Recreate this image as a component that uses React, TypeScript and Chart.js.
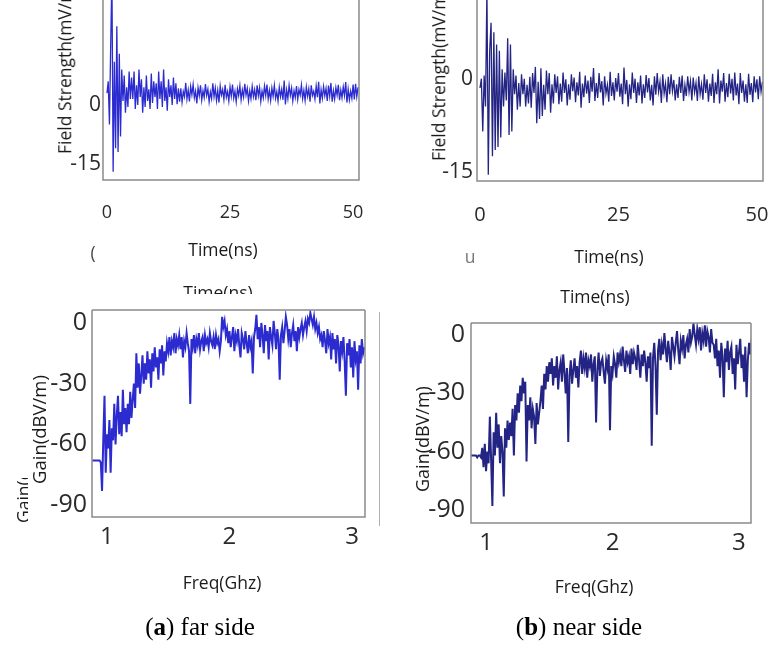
import React, { useEffect, useRef } from "react";
import { Chart, registerables } from "chart.js";

Chart.register(...registerables);

// ---------------- data ----------------
const TIME_STEP_NS = 0.25;
const FREQ_START_GHZ = 0.88;
const FREQ_STEP_GHZ = 0.01;

const TIME_TICKS = [0, 25, 50];
const FIELD_TICKS = [-15, 0];
const FREQ_TICKS = [1, 2, 3];
const GAIN_TICKS = [-90, -60, -30, 0];

// (a) far side, field strength vs time
const FAR_FIELD_MV = [
  0, 3, -8, 12, 30, -20, 8, -14, 17, -15, 10, -11, 6, -2, 4.5, -5, 1.5, -3.5, 5.5, -1.5,
  4, -1.5, 5.5, -4, 2, -3, 6, -1, 3.5, -5, 1.5, -3.5, 4.5, -2, 1, -4, 5, -2.5, 3, -1,
  2.5, -4, 5.5, -1.5, 3, -3.5, 6, -2, 1.5, -4.5, 3.5, -1, 2, -3, 4, -1.5, 2.5, -2.8, 1.2, -2.2,
  1.2, -2.3, 0.4, -0.9, 2.6, -1.5, 0.8, -2.1, 1.7, -0.4, 2.2, -1.2, 0.5, -2.6, 1.4, -0.7, 2.0, -1.8, 0.6, -1.1,
  2.3, -0.6, 1.0, -2.2, 0.3, -1.4, 2.5, -0.9, 1.3, -1.9, 0.7, -2.4, 1.8, -0.5, 0.9, -1.6, 2.1, -1.0, 0.4, -2.0,
  1.6, -0.8, 2.2, -1.3, 0.5, -2.2, 1.1, -0.6, 1.9, -1.7, 0.8, -1.0, 2.4, -0.5, 1.2, -2.0, 0.6, -1.4, 1.7, -0.9,
  0.9, -1.8, 2.0, -0.7, 1.4, -2.1, 0.5, -1.2, 1.8, -0.6, 2.2, -1.5, 0.7, -1.9, 1.3, -0.8, 2.0, -1.3, 0.4, -2.0,
  1.5, -0.9, 1.0, -1.7, 3.2, -2.9, 0.8, -1.4, 2.0, -0.6, 1.3, -2.0, 0.6, -1.1, 1.8, -1.6, 0.9, -0.5, 2.1, -1.4,
  0.7, -1.9, 1.6, -0.8, 1.1, -2.2, 2.0, -0.6, 0.5, -1.5, 1.8, -1.0, 2.9, -2.6, 0.9, -1.3, 1.7, -0.7, 1.2, -2.0,
  1.9, -0.8, 2.6, -2.2, 0.6, -1.5, 1.4, -0.5, 2.1, -1.8, 0.8, -1.2, 1.6, -0.6, 2.8, -2.4, 1.0, -1.7, 0.5, -1.3,
  2.2, -1.6, 2.4, -0.9, 1.5,
];

// (b) near side, field strength vs time
const NEAR_FIELD_MV = [
  0, 1.5, -7, 2, -3, 16, -14, 6, 10.5, -11, 9, -10, 7, -9.5, 6, -8, 3, -3, 2.5, -2,
  8, -7.6, 7, -7, 3, -1, 2, -3.5, 0.8, -3, 2.2, -1, 1.5, -3, 0.5, -2.5, 1.8, -3.2, 2.4, -0.8,
  3.4, -5.7, 1, -5, 3.2, -4.5, 0.5, -3.5, 2.8, -1, 2.4, -4, 0.6, -2.5, 2.2, -0.8, 1.9, -2.6, 0.7, -2.2,
  2.5, -0.8, 1.4, -2.8, 0.6, -1.9, 2.2, -0.5, 1.7, -2.3, 0.9, -1.2, 2.6, -3.2, 0.7, -1.5, 2.0, -0.9, 1.2, -2.4,
  1.8, -0.6, 3.2, -2.1, 0.8, -1.6, 2.4, -0.7, 1.1, -2.8, 1.9, -0.9, 0.5, -2.2, 2.6, -1.3, 0.9, -2.0, 1.6, -0.6,
  2.4, -1.4, 0.7, -2.6, 3.3, -1.0, 1.3, -3.0, 0.6, -1.8, 2.5, -0.8, 1.5, -2.4, 0.9, -1.2, 2.0, -2.5, 0.6, -1.6,
  2.1, -0.7, 1.6, -2.0, 0.5, -2.8, 1.9, -1.1, 2.4, -0.6, 1.0, -2.4, 2.2, -0.9, 0.7, -2.3, 1.8, -1.0, 2.2, -0.5,
  1.3, -2.0, 0.6, -1.6, 1.8, -0.8, 2.0, -2.1, 0.5, -1.3, 1.9, -0.6, 1.1, -2.0, 1.7, -0.7, 0.8, -2.1, 1.9, -1.0,
  0.6, -1.9, 2.2, -0.8, 1.4, -2.2, 0.7, -1.3, 2.3, -2.4, 0.9, -1.0, 3.0, -2.5, 1.2, -0.6, 2.4, -2.2, 0.8, -1.5,
  2.3, -0.9, 1.5, -2.0, 2.5, -1.2, 0.7, -2.6, 2.4, -0.8, 1.2, -2.2, 0.6, -2.4, 2.3, -1.1, 0.8, -2.3, 1.9, -0.7,
  1.4, -1.8, 1.9, -0.6, 1.0,
];

// (a) far side, gain vs frequency
const FAR_GAIN_DB = [
  -68, -68, -68, -68, -68, -68, -68, -69,
  -83, -58, -36, -74, -55,
  -62, -48, -74, -52, -58, -40, -60, -46, -36, -55, -44, -56, -33, -50, -42, -54, -40, -50, -34, -47, -38,
  -30, -42, -15, -32, -20, -35,
  -26, -16, -30, -20, -28, -14, -25, -18, -32, -15, -24, -12, -22, -17, -28, -13, -20, -11, -26, -14, -19, -10,
  -14, -7, -16, -9, -12, -5, -15, -8, -11, -6, -13, -7, -17, -9, -12, -5, -10, -14, -40, -8,
  -12, -6, -15, -8, -11, -5, -13, -9, -7, -14, -6, -10, -8, -12, -5, -9, -11, -7, -13, -6, -10, -8, -14, -9,
  3, -2, 1, -6, -3, -10, -4, -12, -7, -2, -14, -6, -9, -3, -11, -17, -5, -8, -13, -4, -10, -15, -6, -12, -9, -25, -7,
  -3, 4, -8, -2, -12, 0, -6, -15, -1, -9, -4, -18, -2, -7, -11, 1, -5, -13, -3, -8, -28, -6, -2, -10, -4, 3, -1,
  -8, -3, -12, -5, -1, -9, -4, -14, -2, -7, -3, 0, -6, -2, 1, -4, 2, 0, 5, 2, -1, 3, -3, 0, -5, -2, -8,
  -6, -12, -4, -9, -15, -3, -10, -7, -18, -5, -13, -8, -20, -6, -11, -24, -9, -14, -7, -19,
  -36, -10, -16, -8, -22, -12, -27, -9, -18, -14, -33, -11, -20, -8, -15, -12,
];

// (b) near side, gain vs frequency
const NEAR_GAIN_DB = [
  -62, -62, -62, -62, -62, -63, -62, -62, -63,
  -58, -68, -56, -70, -60, -66, -42, -64, -88,
  -50, -62, -40, -58, -46, -66, -52, -60, -83, -48, -58, -44, -54,
  -45, -52, -38, -62, -36, -44, -30, -40,
  -26, -34, -22, -30, -24,
  -65, -36, -44, -32, -48, -38, -42, -56, -35, -46, -40,
  -34, -26, -38, -20, -28, -16, -24, -14,
  -20, -12, -26, -16, -22, -11, -28, -18, -14, -24, -10, -19, -30, -17, -55, -21, -13, -25, -18, -12, -22, -16, -27,
  -14, -8, -20, -12, -17, -9, -22, -13, -16, -10, -24, -15, -11, -45, -18, -9, -21, -14, -12, -19, -25, -13, -17, -10, -49, -16, -20, -11, -15, -22, -9, -14,
  -10, -16, -6, -13, -19, -8, -14, -11, -20, -7, -15, -9, -12, -18, -5, -13, -22, -10, -16, -8, -14, -24, -11, -17, -9, -57,
  -12, -4, -16, -41, -8, -2, -13, -5, -10, 1, -7, -14, -3, -9, -18, -1, -6, -11, -4, 2, -8, -15, -3, -7, 0, -12, -5, -2, -9, 3, -4, -1,
  6, 0, -5, 3, -2, 4, -8, 1, -3, 5, -6, 2, -1, -9, 3, -4,
  -5, -12, -2, -16, -8, -22, -4, -11, -32, -7, -14, -3, -18, -9, -6, -20, -12, -28, -5, -15, -9, -2, -17, -10, -24, -6, -32, -13, -4, -10, -2,
];

// ---------------- rendering ----------------
const SANS = "'Open Sans', 'Noto Sans', 'DejaVu Sans', sans-serif";
const SERIF = "'Liberation Serif', 'DejaVu Serif', serif";
const TICK_COLOR = "#2a2a2a";
const FRAME_COLOR = "#8a8a8a";

const framePlugin = {
  id: "frame",
  afterDatasetsDraw(chart: any, _args: any, opts: any) {
    const { ctx, chartArea: a } = chart;
    ctx.save();
    ctx.strokeStyle = FRAME_COLOR;
    ctx.lineWidth = 1.5;
    ctx.beginPath();
    if (opts.top) {
      ctx.moveTo(a.left, a.top);
      ctx.lineTo(a.right, a.top);
    }
    ctx.moveTo(a.left, a.top);
    ctx.lineTo(a.left, a.bottom);
    ctx.lineTo(a.right, a.bottom);
    ctx.lineTo(a.right, a.top);
    ctx.stroke();
    ctx.restore();
  },
};

type Spec = {
  box: { l: number; t: number; w: number; h: number };
  area: { l: number; t: number; r: number; b: number };
  values: number[];
  x0: number;
  dx: number;
  color: string;
  lineWidth: number;
  xMin: number;
  xMax: number;
  xTicks: number[];
  xFont: number;
  xPad: number;
  yMin: number;
  yMax: number;
  yTicks: number[];
  yFont: number;
  yPad: number;
  yOffset: number;
  frameTop: boolean;
};

function Panel({ spec }: { spec: Spec }) {
  const ref = useRef<HTMLCanvasElement | null>(null);
  useEffect(() => {
    const s = spec;
    const yAxisWidth = s.area.l - s.box.l;
    const xAxisHeight = s.box.t + s.box.h - s.area.b;
    const zeroPad = (sc: any) => {
      sc.paddingTop = 0;
      sc.paddingBottom = 0;
      sc.paddingLeft = 0;
      sc.paddingRight = 0;
    };
    const chart = new Chart(ref.current as HTMLCanvasElement, {
      type: "line",
      data: {
        datasets: [
          {
            data: s.values.map((v, i) => ({ x: s.x0 + i * s.dx, y: v })),
            borderColor: s.color,
            borderWidth: s.lineWidth,
            borderJoinStyle: "miter",
            pointRadius: 0,
            tension: 0,
            fill: false,
          },
        ],
      },
      options: {
        responsive: false,
        maintainAspectRatio: false,
        animation: false,
        devicePixelRatio: 1,
        events: [],
        layout: {
          padding: {
            left: 0,
            top: s.area.t - s.box.t,
            right: s.box.l + s.box.w - s.area.r,
            bottom: 0,
          },
        },
        plugins: {
          legend: { display: false },
          tooltip: { enabled: false },
          frame: { top: s.frameTop },
        } as any,
        scales: {
          x: {
            type: "linear",
            min: s.xMin,
            max: s.xMax,
            grid: { display: false, drawTicks: false, tickLength: 0 },
            border: { display: false },
            ticks: {
              autoSkip: false,
              maxRotation: 0,
              padding: s.xPad,
              color: TICK_COLOR,
              font: { family: SANS, size: s.xFont },
              callback: (v: any) => String(v),
            },
            afterBuildTicks: (sc: any) => {
              sc.ticks = s.xTicks.map((v) => ({ value: v }));
            },
            afterFit: (sc: any) => {
              sc.height = xAxisHeight;
              zeroPad(sc);
            },
          },
          y: {
            type: "linear",
            min: s.yMin,
            max: s.yMax,
            grid: { display: false, drawTicks: false, tickLength: 0 },
            border: { display: false },
            ticks: {
              autoSkip: false,
              padding: s.yPad,
              labelOffset: s.yOffset,
              color: TICK_COLOR,
              font: { family: SANS, size: s.yFont },
              callback: (v: any) => String(v),
            },
            afterBuildTicks: (sc: any) => {
              sc.ticks = s.yTicks.map((v) => ({ value: v }));
            },
            afterFit: (sc: any) => {
              sc.width = yAxisWidth;
              zeroPad(sc);
            },
          },
        },
      } as any,
      plugins: [framePlugin as any],
    });
    return () => chart.destroy();
  }, [spec]);
  return (
    <canvas
      ref={ref}
      width={spec.box.w}
      height={spec.box.h}
      style={{
        position: "absolute",
        left: spec.box.l,
        top: spec.box.t,
        width: spec.box.w,
        height: spec.box.h,
      }}
    />
  );
}

const FAR_BLUE = "#2b2bd0";
const NEAR_BLUE = "#242484";

const SPECS: Spec[] = [
  {
    box: { l: 0, t: 0, w: 392, h: 290 },
    area: { l: 103, t: 0, r: 359, b: 180 },
    values: FAR_FIELD_MV, x0: 0, dx: TIME_STEP_NS, color: FAR_BLUE, lineWidth: 1.3,
    xMin: -0.81, xMax: 51.2, xTicks: TIME_TICKS, xFont: 18, xPad: 22,
    yMin: -22.1, yMax: 23.7, yTicks: FIELD_TICKS, yFont: 21, yPad: 2, yOffset: 12,
    frameTop: false,
  },
  {
    box: { l: 392, t: 0, w: 392, h: 300 },
    area: { l: 477, t: 0, r: 763, b: 181 },
    values: NEAR_FIELD_MV, x0: 0, dx: TIME_STEP_NS, color: NEAR_BLUE, lineWidth: 1.3,
    xMin: -0.54, xMax: 51.1, xTicks: TIME_TICKS, xFont: 20, xPad: 22,
    yMin: -15, yMax: 14.19, yTicks: FIELD_TICKS, yFont: 21, yPad: 4, yOffset: -9,
    frameTop: false,
  },
  {
    box: { l: 0, t: 290, w: 392, h: 359 },
    area: { l: 92, t: 310, r: 365, b: 517 },
    values: FAR_GAIN_DB, x0: FREQ_START_GHZ, dx: FREQ_STEP_GHZ, color: FAR_BLUE, lineWidth: 2,
    xMin: 0.878, xMax: 3.106, xTicks: FREQ_TICKS, xFont: 24, xPad: 5.6,
    yMin: -95.9, yMax: 6.4, yTicks: GAIN_TICKS, yFont: 25, yPad: 5, yOffset: 0,
    frameTop: true,
  },
  {
    box: { l: 392, t: 300, w: 392, h: 349 },
    area: { l: 471, t: 323, r: 751, b: 523 },
    values: NEAR_GAIN_DB, x0: FREQ_START_GHZ, dx: FREQ_STEP_GHZ, color: NEAR_BLUE, lineWidth: 2,
    xMin: 0.881, xMax: 3.095, xTicks: FREQ_TICKS, xFont: 24, xPad: 5.6,
    yMin: -96.7, yMax: 6.17, yTicks: GAIN_TICKS, yFont: 25, yPad: 6, yOffset: 0,
    frameTop: true,
  },
];

const TITLE_SIZE = 17.5;

function HText({ x, y, size = TITLE_SIZE, family = SANS, color = "#1a1a1a", children }: any) {
  return (
    <div
      style={{
        position: "absolute",
        left: x,
        top: y,
        transform: "translate(-50%, -50%)",
        whiteSpace: "nowrap",
        fontFamily: family,
        fontSize: size,
        lineHeight: 1,
        color,
      }}
    >
      {children}
    </div>
  );
}

function VText({ x, y, size = TITLE_SIZE, children }: any) {
  return (
    <div style={{ position: "absolute", left: x, top: y, width: 0, height: 0 }}>
      <div
        style={{
          position: "absolute",
          left: 0,
          top: 0,
          whiteSpace: "nowrap",
          transformOrigin: "0 0",
          transform: "rotate(-90deg) translateY(-50%)",
          fontFamily: SANS,
          fontSize: size,
          lineHeight: 1,
          color: "#1a1a1a",
        }}
      >
        {children}
      </div>
    </div>
  );
}

export default function App() {
  return (
    <div
      style={{
        position: "absolute",
        left: 0,
        top: 0,
        width: 784,
        height: 649,
        overflow: "hidden",
        background: "#ffffff",
      }}
    >
      {SPECS.map((s, i) => (
        <Panel key={i} spec={s} />
      ))}

      {/* axis titles */}
      <VText x={65} y={154}>Field Strength(mV/m)</VText>
      <VText x={439} y={161}>Field Strength(mV/m)</VText>
      <VText x={39} y={484} size={18.5}>Gain(dBV/m)</VText>
      <VText x={422} y={492} size={18}>Gain(dBV/m)</VText>

      <HText x={223} y={250}>Time(ns)</HText>
      <HText x={609} y={257}>Time(ns)</HText>
      <HText x={595} y={297}>Time(ns)</HText>
      <div style={{ position: "absolute", left: 150, top: 276, width: 140, height: 18, overflow: "hidden" }}>
        <HText x={68} y={17}>Time(ns)</HText>
      </div>

      <HText x={222} y={583}>Freq(Ghz)</HText>
      <HText x={594} y={587}>Freq(Ghz)</HText>

      {/* stray fragments of the original figure */}
      <HText x={93} y={253} color="#444">(</HText>
      <HText x={470} y={257} color="#777">u</HText>
      <div style={{ position: "absolute", left: 15, top: 478, width: 13, height: 46, overflow: "hidden" }}>
        <VText x={9} y={45}>Gain(dBV/m)</VText>
      </div>
      <div style={{ position: "absolute", left: 379, top: 312, width: 1, height: 214, background: "#b0b0b0" }} />

      {/* captions */}
      <HText x={200} y={626} size={25} family={SERIF} color="#000">
        (<b>a</b>) far side
      </HText>
      <HText x={579} y={626} size={25} family={SERIF} color="#000">
        (<b>b</b>) near side
      </HText>
    </div>
  );
}
